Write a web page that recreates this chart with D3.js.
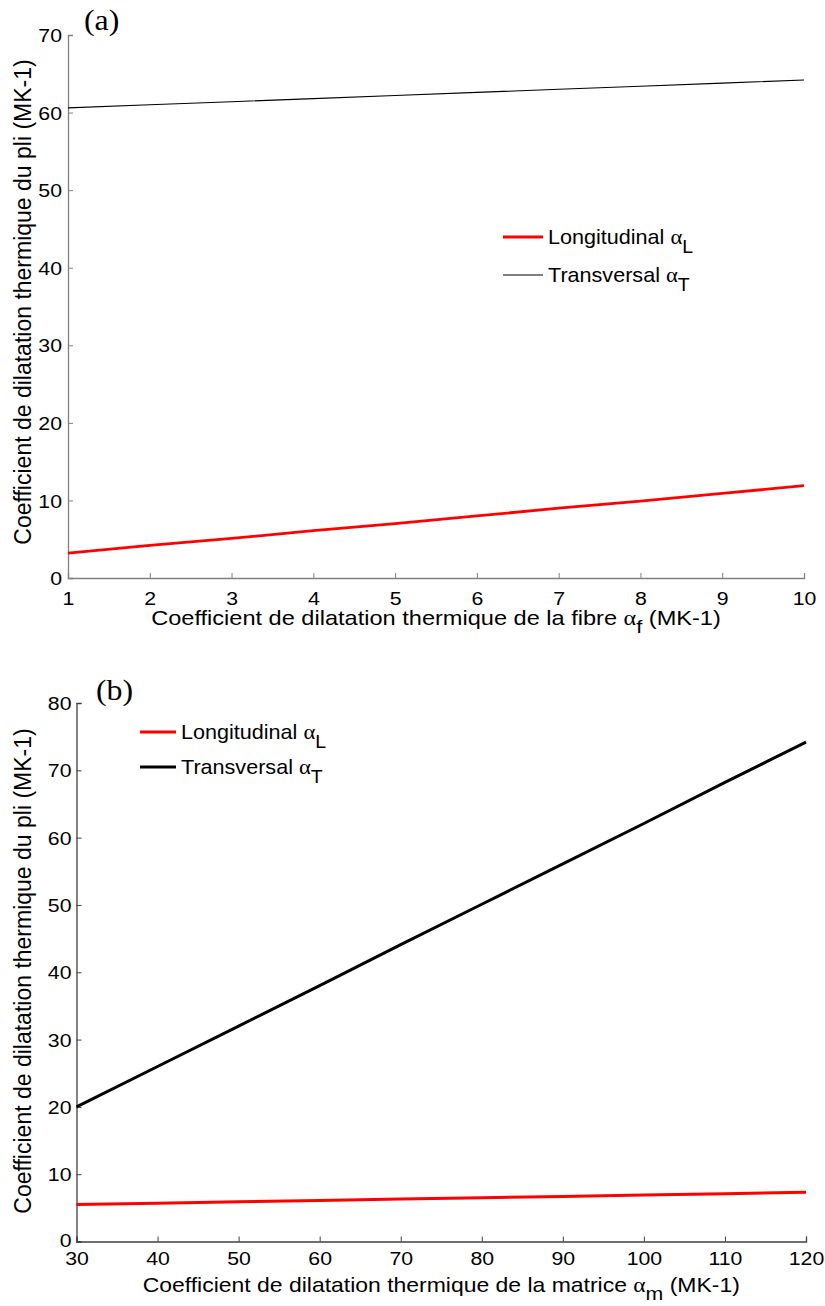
<!DOCTYPE html>
<html><head><meta charset="utf-8">
<script src="https://cdn.jsdelivr.net/npm/d3@7"></script>
<style>body{margin:0;background:#fff}svg{display:block;font-family:"Liberation Sans",Arial,sans-serif}</style>
</head><body>
<svg id="c" width="825" height="1306"></svg>
<script>
// Panel (a): fibre CTE
const aX = [1,2,3,4,5,6,7,8,9,10];
const aLong = [3.2,4.2,5.1,6.1,7.0,8.0,9.0,9.9,10.9,11.9];
const aTrans = [60.6,61.0,61.4,61.8,62.2,62.6,63.0,63.4,63.8,64.2];
const aXTicks = [1,2,3,4,5,6,7,8,9,10];
const aYTicks = [0,10,20,30,40,50,60,70];
// Panel (b): matrix CTE
const bX = [30,40,50,60,70,80,90,100,110,120];
const bLong = [5.5,5.7,5.9,6.1,6.3,6.5,6.7,6.9,7.1,7.3];
const bTrans = [20.0,26.0,32.0,38.0,44.1,50.1,56.1,62.1,68.2,74.2];
const bXTicks = [30,40,50,60,70,80,90,100,110,120];
const bYTicks = [0,10,20,30,40,50,60,70,80];

const yTitle = "Coefficient de dilatation thermique du pli (MK-1)";
const serif = "Liberation Serif, Times New Roman, serif";
const sans = "Liberation Sans, Arial, sans-serif";
const svg = d3.select("#c");
const TS = 1.12; // horizontal stretch of tick labels

function panel(o){
  const g = svg.append("g").attr("font-family",sans).attr("fill","#000");
  const x = d3.scaleLinear().domain(o.xd).range([o.left,o.right]);
  const y = d3.scaleLinear().domain(o.yd).range([o.bottom,o.top]);
  const line = d3.line().x(d=>x(d[0])).y(d=>y(d[1]));
  const xa = g.append("g").attr("transform",`translate(0,${o.bottom})`)
    .call(d3.axisBottom(x).tickValues(o.xt).tickSize(-5).tickFormat(d3.format("d")));
  const ya = g.append("g").attr("transform",`translate(${o.left},0)`)
    .call(d3.axisLeft(y).tickValues(o.yt).tickSize(-5).tickFormat(d3.format("d")));
  [xa,ya].forEach(a=>{
    a.attr("font-family",sans);
    a.select(".domain").attr("stroke",o.axisColor).attr("stroke-width",1.3);
    a.selectAll(".tick line").attr("stroke",o.axisColor).attr("stroke-width",1);
    a.selectAll(".tick text").attr("font-size",19).attr("fill","#000");
  });
  xa.selectAll(".tick text").attr("x",0).attr("y",0).attr("dy","0.72em")
    .attr("transform",`translate(0,${o.xPad}) scale(${TS},1)`);
  ya.selectAll(".tick text").attr("x",0).attr("dy","0.35em")
    .attr("transform",d=>`translate(${-o.yPad},${d===0?o.zeroShift:0}) scale(${TS},1)`);
  // lines
  g.append("path").datum(o.xs.map((v,i)=>[v,o.trans[i]])).attr("d",line)
    .attr("fill","none").attr("stroke","#000").attr("stroke-width",o.transW);
  g.append("path").datum(o.xs.map((v,i)=>[v,o.long[i]])).attr("d",line)
    .attr("fill","none").attr("stroke","#ff0000").attr("stroke-width",o.longW);
  // x title
  const xt = g.append("text").attr("text-anchor","middle").attr("font-size",20.5)
    .attr("transform",`translate(${(o.left+o.right)/2},${o.xTitleY}) scale(${o.xTitleS},1)`);
  xt.append("tspan").text(o.xTitle+" ");
  xt.append("tspan").attr("font-family",serif).attr("font-size",21).text("α");
  xt.append("tspan").attr("dy",8).attr("font-size",19).text(o.xSub);
  xt.append("tspan").attr("dy",-8).text(" (MK-1)");
  // y title
  g.append("text").attr("transform",`translate(31,${o.yTitleC}) rotate(-90)`)
    .attr("text-anchor","middle").attr("font-size",23).text(yTitle);
  // panel label
  g.append("text").attr("transform",`translate(${o.labX},${o.labY}) scale(1.1,1)`)
    .attr("font-family",serif).attr("font-size",29).text(o.label);
  // legend
  const items = [{t:"Longitudinal ",s:"L",c:"#ff0000",w:o.longW},{t:"Transversal ",s:"T",c:"#000",w:o.legTransW}];
  items.forEach((it,i)=>{
    const ly = o.legY + i*o.legGap;
    g.append("line").attr("x1",o.legX).attr("x2",o.legX+o.legLen).attr("y1",ly).attr("y2",ly)
      .attr("stroke",it.c).attr("stroke-width",it.w);
    const t = g.append("text").attr("font-size",20)
      .attr("transform",`translate(${o.legX+o.legLen+5},${ly+7}) scale(1.08,1)`);
    t.append("tspan").text(it.t);
    t.append("tspan").attr("font-family",serif).attr("font-size",21).text("α");
    t.append("tspan").attr("dy",9).attr("font-size",18).text(it.s);
  });
}

panel({xd:[1,10],yd:[0,70],left:68,right:804,top:35,bottom:578,xt:aXTicks,yt:aYTicks,
  xs:aX,long:aLong,trans:aTrans,longW:2.8,transW:1.1,legTransW:1.1,axisColor:"#808080",
  xPad:13,yPad:6,zeroShift:0,
  xTitle:"Coefficient de dilatation thermique de la fibre",xSub:"f",xTitleY:625,xTitleS:1.15,yTitleC:302,
  label:"(a)",labX:84,labY:30,legX:503,legLen:40,legY:237,legGap:38});
panel({xd:[30,120],yd:[0,80],left:76.5,right:806,top:703,bottom:1241.5,xt:bXTicks,yt:bYTicks,
  xs:bX,long:bLong,trans:bTrans,longW:3,transW:3,legTransW:3,axisColor:"#404040",
  xPad:10,yPad:5,zeroShift:-2,
  xTitle:"Coefficient de dilatation thermique de la matrice",xSub:"m",xTitleY:1292,xTitleS:1.12,yTitleC:971,
  label:"(b)",labX:96,labY:700,legX:140,legLen:36,legY:732,legGap:35});
</script>
</body></html>
